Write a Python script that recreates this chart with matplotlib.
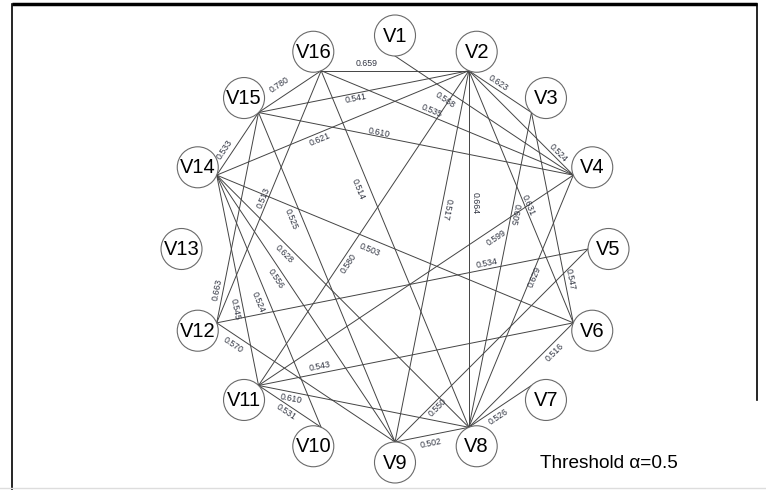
import numpy as np
import matplotlib.pyplot as plt
from matplotlib.patches import Circle

plt.rcParams['font.family'] = ['Liberation Sans', 'DejaVu Sans']

nodes = ["V%d" % i for i in range(1, 17)]

# edges above threshold; the label reads from source to target
edge_src = ["V16", "V15", "V16", "V16", "V12", "V14", "V15", "V15", "V15", "V12",
            "V14", "V14", "V14", "V14", "V14", "V14", "V1", "V2", "V2", "V2",
            "V2", "V11", "V2", "V3", "V3", "V11", "V8", "V12", "V9", "V8",
            "V11", "V8", "V9", "V11", "V11", "V12"]
edge_dst = ["V2", "V16", "V4", "V8", "V16", "V15", "V2", "V4", "V9", "V15",
            "V2", "V6", "V8", "V9", "V10", "V11", "V4", "V3", "V4", "V8",
            "V9", "V2", "V6", "V8", "V6", "V4", "V4", "V5", "V5", "V6",
            "V6", "V7", "V8", "V8", "V10", "V9"]
weights = [0.659, 0.780, 0.535, 0.514, 0.513, 0.533, 0.541, 0.610, 0.525, 0.663,
           0.621, 0.503, 0.628, 0.556, 0.524, 0.545, 0.568, 0.623, 0.524, 0.664,
           0.517, 0.580, 0.631, 0.605, 0.547, 0.599, 0.629, 0.534, 0.550, 0.516,
           0.543, 0.526, 0.502, 0.610, 0.531, 0.570]

# where each weight label sits: fraction along the edge, shift across it (px)
label_t = [0.31, 0.44, 0.43, 0.32, 0.49, 0.34, 0.46, 0.38, 0.31, 0.15,
           0.40, 0.44, 0.29, 0.37, 0.49, 0.63, 0.31, 0.41, 0.82, 0.37,
           0.37, 0.40, 0.54, 0.32, 0.80, 0.74, 0.60, 0.73, 0.20, 0.77,
           0.20, 0.41, 0.46, 0.16, 0.50, 0.12]
label_off = [7.5, 11.7, 5.5, -11, 4.9, 7.5, -5.4, 3.8, -10.9, 6,
             -6.3, -10.7, -8.1, -8.7, -10.3, -7.8, -8.4, 5.8, 4.7, 6.4,
             5.2, -7, 3.3, 3.6, 5.6, -9.4, -3.4, 5.4, -5.7, -7.7,
             6.8, -7.6, -8.1, -7, -7.2, -9]

threshold = 0.5

W, H = 766, 490
fig = plt.figure(figsize=(W / 100, H / 100), dpi=100)
ax = fig.add_axes([0, 0, 1, 1])
ax.set_xlim(0, W)
ax.set_ylim(H, 0)
ax.axis("off")

# circular layout (pixel units, y down)
cx, cy, R, r_node = 395, 249, 193, 20.5
ang = np.deg2rad(90 - 22.5 * np.arange(len(nodes)))
port = {n: (cx + R * np.cos(a), cy - R * np.sin(a)) for n, a in zip(nodes, ang)}
centre = {n: (cx + (R + r_node) * np.cos(a), cy - (R + r_node) * np.sin(a))
          for n, a in zip(nodes, ang)}

for s, d, w, t, off in zip(edge_src, edge_dst, weights, label_t, label_off):
    x0, y0 = port[s]
    x1, y1 = port[d]
    ax.plot([x0, x1], [y0, y1], color="#444444", lw=0.7, zorder=1)
    dx, dy = x1 - x0, y1 - y0
    L = np.hypot(dx, dy)
    ux, uy = dy / L, -dx / L
    lx = x0 + t * dx + off * ux
    ly = y0 + t * dy + off * uy
    rot = np.degrees(np.arctan2(-dy, dx))
    ax.text(lx, ly, "%.3f" % w, fontsize=6.3, color="#2f3340", rotation=rot,
            rotation_mode="anchor", ha="center", va="center", zorder=2)

for n in nodes:
    x, y = centre[n]
    ax.add_patch(Circle((x, y), r_node, facecolor="white", edgecolor="#6a6a6a",
                        lw=0.8, zorder=3))
    ax.text(x, y + 0.5, n, fontsize=14.5, ha="center", va="center", zorder=4)

ax.text(609, 463, "Threshold \u03b1=%.1f" % threshold, fontsize=13.7,
        ha="center", va="center")

# frame around the picture
ax.plot([12, 757], [4.5, 4.5], color="black", lw=2.5, solid_capstyle="butt")
ax.plot([12, 12], [4, H], color="black", lw=1.2)
ax.plot([757, 757], [4, 400], color="black", lw=1.2)
ax.plot([0, W], [488, 488], color="#dddddd", lw=1.0)

fig.savefig("out.png", dpi=100)
